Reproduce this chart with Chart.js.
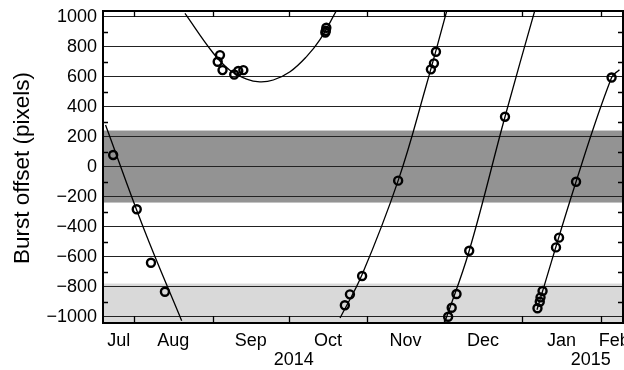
<!DOCTYPE html>
<html>
<head>
<meta charset="utf-8">
<script src="https://cdn.jsdelivr.net/npm/chart.js@4.4.1/dist/chart.umd.min.js"></script>
<style>
  html, body { margin: 0; padding: 0; background: #fff; }
  #wrap { width: 624px; height: 370px; }
</style>
</head>
<body>
<div id="wrap"><canvas id="burst"></canvas></div>
<script>
// x values are days counted from 1 Jul 2014 (day 0)
const xMin = 18.8
const xMax = 223.7
const yMin = -1043
const yMax = 1037

const monthNames = ['Jul', 'Aug', 'Sep', 'Oct', 'Nov', 'Dec', 'Jan', 'Feb']
const monthLabelDays = [25, 46.5, 77, 107.5, 138, 168.5, 199.5, 220.3]
const monthEdges = [31, 62, 92, 123, 153, 184, 215]
const yearNames = ['2014', '2015']
const yearLabelDays = [94, 211]
const yTicks = [-1000, -800, -600, -400, -200, 0, 200, 400, 600, 800, 1000]
const yMinor = [-900, -700, -500, -300, -100, 100, 300, 500, 700, 900]

const darkBand = [-240, 240]
const lightBand = [yMin, -780]

// measured bursts
const obsDays = [22.8, 32.1, 37.7, 43.2,
    64, 64.9, 65.9, 70.5, 72.1, 74.1, 106.4, 106.6, 106.8,
    114.1, 116.1, 120.9, 135.1, 148, 149.2, 150,
    154.8, 156.2, 158.1, 163.1, 177.2,
    190, 190.9, 191.2, 192, 197.3, 198.5, 205.2, 219.2]
const obsOffsets = [77, -285, -641, -835,
    699, 743, 643, 614, 637, 643, 893, 905, 925,
    -925, -852, -730, -94, 648, 688, 765,
    -1001, -941, -850, -561, 332,
    -945, -901, -872, -830, -539, -474, -101, 594]

// fitted tracks
const fit1Days = [19.8, 35, 49.8]
const fit1Vals = [277, -420, -1028]
const fit2Days = [51.1, 62.2, 68.8, 75.4, 80.6, 85.9, 92.5, 99, 104.3, 110.9]
const fit2Vals = [1021, 757, 642, 583, 565, 577, 632, 733, 846, 1043]
const fit3Days = [112.2, 120.9, 135.1, 146, 154.3]
const fit3Vals = [-1010, -720, -94, 530, 1040]
const fit4Days = [153.5, 163.1, 177.2, 189]
const fit4Vals = [-1037, -561, 332, 1043]
const fit5Days = [189.8, 205.2, 219.2, 222.3]
const fit5Vals = [-955, -101, 594, 645]

const pts = (xs, ys) => xs.map((x, i) => ({ x: x, y: ys[i] }))

const fitLine = (xs, ys) => ({
    type: 'line',
    data: pts(xs, ys),
    borderColor: '#000',
    borderWidth: 1.3,
    pointRadius: 0,
    tension: 0.4,
    fill: false
})

const fmt = v => v < 0 ? '\u2212' + Math.abs(v) : String(v)
const FONT = '"Liberation Sans", Arial, sans-serif'

const frame = {
    id: 'frame',
    beforeDraw(chart) {
        const { ctx, chartArea: a, scales: { y } } = chart
        ctx.save()
        ctx.fillStyle = '#d9d9d9'
        let t = y.getPixelForValue(lightBand[1]), b = y.getPixelForValue(lightBand[0])
        ctx.fillRect(a.left, t, a.right - a.left, b - t)
        ctx.fillStyle = '#939393'
        t = y.getPixelForValue(darkBand[1]); b = y.getPixelForValue(darkBand[0])
        ctx.fillRect(a.left, t, a.right - a.left, b - t)
        ctx.restore()
    },
    afterDraw(chart) {
        const { ctx, chartArea: a, scales: { x, y } } = chart
        ctx.save()
        ctx.strokeStyle = '#000'
        ctx.lineWidth = 1.3
        ctx.beginPath()
        monthEdges.forEach(d => {
            const px = Math.round(x.getPixelForValue(d)) + 0.5
            ctx.moveTo(px, a.bottom); ctx.lineTo(px, a.bottom - 7)
            ctx.moveTo(px, a.top); ctx.lineTo(px, a.top + 6)
        })
        yMinor.forEach(v => {
            const py = Math.round(y.getPixelForValue(v)) + 0.5
            ctx.moveTo(a.left, py); ctx.lineTo(a.left + 5, py)
            ctx.moveTo(a.right, py); ctx.lineTo(a.right - 5, py)
        })
        ctx.stroke()
        ctx.lineWidth = 2
        ctx.strokeRect(a.left, a.top, a.right - a.left, a.bottom - a.top)
        ctx.fillStyle = '#000'
        ctx.font = '18px ' + FONT
        ctx.textAlign = 'center'
        ctx.textBaseline = 'middle'
        yearNames.forEach((n, i) => ctx.fillText(n, x.getPixelForValue(yearLabelDays[i]), 360))
        // axis title
        ctx.translate(23, 168)
        ctx.rotate(-Math.PI / 2)
        ctx.font = '22.5px ' + FONT
        ctx.fillText('Burst offset (pixels)', 0, 0)
        ctx.restore()
    }
}

Chart.defaults.font.family = FONT
Chart.defaults.color = '#000'

new Chart(document.getElementById('burst'), {
    type: 'scatter',
    data: {
        datasets: [
            fitLine(fit1Days, fit1Vals),
            fitLine(fit2Days, fit2Vals),
            fitLine(fit3Days, fit3Vals),
            fitLine(fit4Days, fit4Vals),
            fitLine(fit5Days, fit5Vals),
            {
                type: 'scatter',
                data: pts(obsDays, obsOffsets),
                pointRadius: 4,
                pointBorderWidth: 2.4,
                borderColor: '#000',
                backgroundColor: 'rgba(0,0,0,0)',
                pointHoverRadius: 4
            }
        ]
    },
    options: {
        responsive: true,
        maintainAspectRatio: false,
        animation: false,
        events: [],
        layout: { autoPadding: false, padding: { top: 11, right: 1, left: 0, bottom: 0 } },
        plugins: { legend: { display: false }, tooltip: { enabled: false } },
        scales: {
            x: {
                type: 'linear',
                min: xMin,
                max: xMax,
                afterBuildTicks: s => { s.ticks = monthLabelDays.map(v => ({ value: v })) },
                afterFit: s => { s.height = 47; s.paddingLeft = 0; s.paddingRight = 0 },
                grid: { display: false, drawTicks: false },
                border: { display: false },
                ticks: {
                    autoSkip: false,
                    maxRotation: 0,
                    padding: 7,
                    font: { size: 18 },
                    callback: (v, i) => monthNames[i]
                }
            },
            y: {
                type: 'linear',
                min: yMin,
                max: yMax,
                afterBuildTicks: s => { s.ticks = yTicks.map(v => ({ value: v })) },
                afterFit: s => { s.width = 103; s.paddingTop = 0; s.paddingBottom = 0 },
                grid: { color: '#222', lineWidth: 1, drawTicks: false },
                border: { display: false },
                ticks: { padding: 6, font: { size: 18 }, callback: v => fmt(v) }
            }
        }
    },
    plugins: [frame]
})
</script>
</body>
</html>
